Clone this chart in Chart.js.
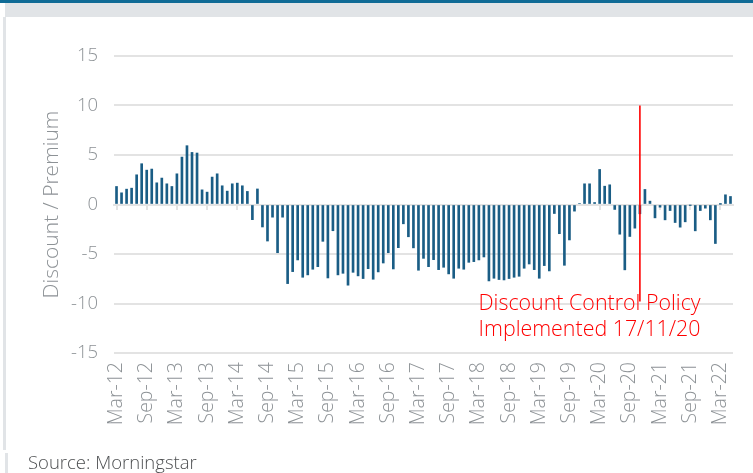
<!DOCTYPE html>
<html>
<head>
<meta charset="utf-8">
<script src="https://cdn.jsdelivr.net/npm/chart.js@4.4.0/dist/chart.umd.min.js"></script>
<style>
  html, body { margin: 0; padding: 0; background: #ffffff; }
  #wrap { position: relative; width: 753px; height: 473px; overflow: hidden; background: #fff; }
  #topbar { position: absolute; left: 0; top: 0; width: 753px; height: 3px; background: #0f6b96; }
  #greyband { position: absolute; left: 5px; top: 3px; width: 748px; height: 14px; background: #e1e4e7; }
  #leftline1 { position: absolute; left: 3px; top: 17px; width: 3px; height: 433px; background: #e1e4e7; }
  #leftline2 { position: absolute; left: 5px; top: 453px; width: 3px; height: 20px; background: #e1e4e7; }
  #source { position: absolute; left: 28px; top: 449px; font-family: "Open Sans", Lato, sans-serif; font-weight: 300; font-size: 18.5px; color: #4d4f51; }
  canvas { position: absolute; left: 0; top: 0; }
</style>
</head>
<body>
<div id="wrap">
  <div id="topbar"></div>
  <div id="greyband"></div>
  <div id="leftline1"></div>
  <div id="leftline2"></div>
  <canvas id="c" width="753" height="473"></canvas>
  <div id="source">Source: Morningstar</div>
</div>
<script>
const categories = [
  'Mar-12','Apr-12','May-12','Jun-12','Jul-12','Aug-12','Sep-12','Oct-12','Nov-12','Dec-12',
  'Jan-13','Feb-13','Mar-13','Apr-13','May-13','Jun-13','Jul-13','Aug-13','Sep-13','Oct-13','Nov-13','Dec-13',
  'Jan-14','Feb-14','Mar-14','Apr-14','May-14','Jun-14','Jul-14','Aug-14','Sep-14','Oct-14','Nov-14','Dec-14',
  'Jan-15','Feb-15','Mar-15','Apr-15','May-15','Jun-15','Jul-15','Aug-15','Sep-15','Oct-15','Nov-15','Dec-15',
  'Jan-16','Feb-16','Mar-16','Apr-16','May-16','Jun-16','Jul-16','Aug-16','Sep-16','Oct-16','Nov-16','Dec-16',
  'Jan-17','Feb-17','Mar-17','Apr-17','May-17','Jun-17','Jul-17','Aug-17','Sep-17','Oct-17','Nov-17','Dec-17',
  'Jan-18','Feb-18','Mar-18','Apr-18','May-18','Jun-18','Jul-18','Aug-18','Sep-18','Oct-18','Nov-18','Dec-18',
  'Jan-19','Feb-19','Mar-19','Apr-19','May-19','Jun-19','Jul-19','Aug-19','Sep-19','Oct-19','Nov-19','Dec-19',
  'Jan-20','Feb-20','Mar-20','Apr-20','May-20','Jun-20','Jul-20','Aug-20','Sep-20','Oct-20','Nov-20','Dec-20',
  'Jan-21','Feb-21','Mar-21','Apr-21','May-21','Jun-21','Jul-21','Aug-21','Sep-21','Oct-21','Nov-21','Dec-21',
  'Jan-22','Feb-22','Mar-22','Apr-22','May-22'
];

const discountPremium = [
  1.82, 1.18, 1.55, 1.65, 3.00, 4.12, 3.47, 3.58, 2.19, 2.67,
  2.09, 1.82, 3.10, 4.79, 5.94, 5.26, 5.20, 1.48, 1.25, 2.77, 3.10, 1.89,
  1.35, 2.09, 2.16, 1.89, 1.32, -1.53, 1.57, -2.27, -3.69, -1.28, -4.87, -1.28,
  -7.99, -6.78, -5.60, -7.35, -7.11, -6.54, -6.28, -3.72, -7.42, -2.65, -7.11, -6.95,
  -8.15, -6.85, -7.21, -7.48, -6.48, -7.55, -6.81, -5.91, -4.87, -6.51, -4.36, -1.95,
  -3.26, -4.38, -6.64, -5.44, -6.28, -5.57, -6.58, -6.34, -7.01, -7.45, -6.44, -6.54,
  -5.84, -5.77, -5.60, -5.30, -7.72, -7.45, -7.58, -7.62, -7.48, -7.35, -7.25, -6.44,
  -6.01, -6.58, -7.45, -6.17, -6.71, -0.91, -2.95, -6.14, -3.58, -0.67, 0.10, 2.09,
  2.09, 0.20, 3.54, 1.85, 1.99, -0.50, -3.00, -6.60, -3.23, -2.39, -0.94, 1.52,
  0.34, -1.35, -0.27, -1.55, -0.61, -1.82, -2.29, -1.75, -0.05, -2.66, -0.61, -0.37,
  -1.55, -3.94, 0.02, 0.98, 0.81
];

const tickLabels = ['Mar-12','Sep-12','Mar-13','Sep-13','Mar-14','Sep-14','Mar-15','Sep-15',
  'Mar-16','Sep-16','Mar-17','Sep-17','Mar-18','Sep-18','Mar-19','Sep-19','Mar-20','Sep-20',
  'Mar-21','Sep-21','Mar-22'];

const yTicks = [-15, -10, -5, 0, 5, 10, 15];

const policyMonth = 'Nov-20';
const policyLine = [10, -9.8];
const annotationAnchor = 'Jan-20';
const annotationLines = ['Discount Control Policy', 'Implemented 17/11/20'];
const annotationY = [-10.65, -13.3];

const FONT = '"Open Sans", Lato, sans-serif';
const GREY_TEXT = '#8d9296';
const GRID = '#e3e3e3';

const annotationPlugin = {
  id: 'annotationText',
  afterDatasetsDraw(chart) {
    const ctx = chart.ctx;
    const xs = chart.scales.x, ys = chart.scales.y;
    const cx = xs.getPixelForValue(categories.indexOf(annotationAnchor));
    ctx.save();
    ctx.fillStyle = '#ff0000';
    ctx.font = '300 21.4px ' + FONT;
    ctx.textAlign = 'center';
    ctx.textBaseline = 'alphabetic';
    annotationLines.forEach((t, i) => ctx.fillText(t, cx, ys.getPixelForValue(annotationY[i])));
    ctx.restore();
  }
};

new Chart(document.getElementById('c'), {
  type: 'bar',
  data: {
    labels: categories,
    datasets: [
      {
        type: 'line',
        data: policyLine.map(v => ({ x: policyMonth, y: v })),
        borderColor: '#ff0000',
        borderWidth: 1.6,
        pointRadius: 0,
        fill: false,
        order: 0,
        xAxisID: 'x'
      },
      {
        data: discountPremium,
        backgroundColor: '#1a5d85',
        barThickness: 2,
        order: 1,
        xAxisID: 'x'
      }
    ]
  },
  options: {
    responsive: false,
    animation: false,
    devicePixelRatio: 1,
    layout: { padding: { top: 56, right: 20, left: 0, bottom: 0 } },
    plugins: { legend: { display: false }, tooltip: { enabled: false }, title: { display: false } },
    scales: {
      x: {
        type: 'category',
        position: 'bottom',
        offset: true,
        grid: { display: false, drawTicks: false },
        border: { display: false },
        ticks: {
          autoSkip: false,
          minRotation: 90,
          maxRotation: 90,
          padding: 9,
          color: GREY_TEXT,
          font: { family: FONT, size: 19.5, weight: '300' },
          callback: function (v, i) { const l = categories[i]; return tickLabels.includes(l) ? l : ''; }
        },
        afterFit: s => { s.height = 120; s.paddingLeft = 0; s.paddingRight = 0; }
      },
      x2: {
        type: 'category',
        labels: categories,
        position: { y: 0 },
        offset: true,
        grid: {
          offset: false,
          drawOnChartArea: false,
          drawTicks: true,
          tickLength: 4,
          lineWidth: 2,
          color: c => (tickLabels.includes(categories[c.index]) ? GRID : 'rgba(0,0,0,0)'),
          tickColor: c => (tickLabels.includes(categories[c.index]) ? GRID : 'rgba(0,0,0,0)')
        },
        border: { display: true, color: GRID, width: 2 },
        ticks: { display: false, autoSkip: false },
        afterFit: s => { s.paddingLeft = 0; s.paddingRight = 0; }
      },
      y: {
        min: -15,
        max: 15,
        afterBuildTicks: s => { s.ticks = yTicks.map(v => ({ value: v })); },
        grid: { color: GRID, lineWidth: 2, drawTicks: false },
        border: { display: false },
        ticks: {
          padding: 16,
          color: GREY_TEXT,
          font: { family: FONT, size: 18.5, weight: '300' }
        },
        title: {
          display: true,
          text: 'Discount / Premium',
          color: GREY_TEXT,
          font: { family: FONT, size: 21, weight: '300' },
          padding: { top: 39, bottom: 0 }
        },
        afterFit: s => { s.width = 114; }
      }
    }
  },
  plugins: [annotationPlugin]
});
</script>
</body>
</html>
